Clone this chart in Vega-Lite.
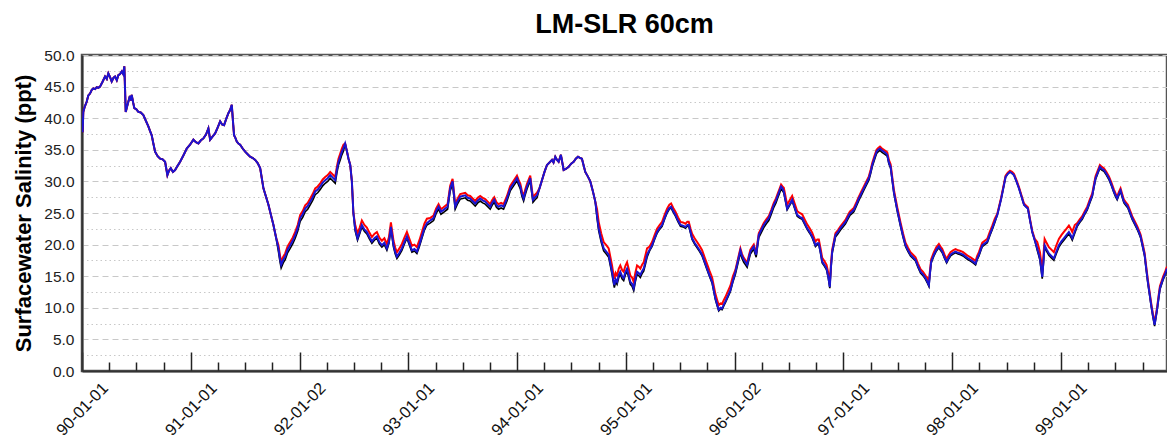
{
"$schema": "https://vega.github.io/schema/vega-lite/v6.json",
"width": 1085, "height": 316,
"autosize": {"type": "none"},
"padding": {"left": 82, "top": 55, "right": 0, "bottom": 71},
"background": "white",
"config": {"view": {"stroke": "#555555", "strokeWidth": 2.5}, "font": "Liberation Sans"},
"title": {"text": "LM-SLR 60cm", "font": "Liberation Sans", "fontSize": 27, "fontWeight": "bold", "color": "#000000", "offset": 9, "anchor": "middle"},
"data": {"values": [
{"t":1990.000,"b":40.0,"r":40.0,"k":40.0},
{"t":1990.006,"b":37.8,"r":37.8,"k":37.8},
{"t":1990.012,"b":41.0,"r":41.0,"k":41.0},
{"t":1990.025,"b":41.8,"r":41.8,"k":41.8},
{"t":1990.043,"b":42.6,"r":42.6,"k":42.6},
{"t":1990.058,"b":43.6,"r":43.6,"k":43.6},
{"t":1990.074,"b":43.9,"r":43.9,"k":43.9},
{"t":1990.090,"b":44.5,"r":44.5,"k":44.5},
{"t":1990.104,"b":44.7,"r":44.7,"k":44.7},
{"t":1990.120,"b":44.6,"r":44.6,"k":44.6},
{"t":1990.135,"b":44.9,"r":44.9,"k":44.9},
{"t":1990.150,"b":44.8,"r":44.8,"k":44.8},
{"t":1990.166,"b":45.0,"r":45.0,"k":45.0},
{"t":1990.190,"b":45.8,"r":45.8,"k":45.8},
{"t":1990.212,"b":46.6,"r":46.6,"k":46.6},
{"t":1990.228,"b":46.2,"r":46.2,"k":46.2},
{"t":1990.242,"b":47.1,"r":47.1,"k":47.1},
{"t":1990.258,"b":46.5,"r":46.5,"k":46.5},
{"t":1990.273,"b":45.8,"r":45.8,"k":45.8},
{"t":1990.290,"b":46.4,"r":46.4,"k":46.4},
{"t":1990.304,"b":46.6,"r":46.6,"k":46.6},
{"t":1990.320,"b":46.0,"r":46.0,"k":46.0},
{"t":1990.334,"b":46.8,"r":46.8,"k":46.8},
{"t":1990.350,"b":47.0,"r":47.0,"k":47.0},
{"t":1990.365,"b":47.4,"r":47.4,"k":47.4},
{"t":1990.378,"b":47.0,"r":47.0,"k":47.0},
{"t":1990.389,"b":48.2,"r":48.2,"k":48.2},
{"t":1990.396,"b":44.5,"r":44.5,"k":44.5},
{"t":1990.402,"b":41.0,"r":41.0,"k":41.0},
{"t":1990.414,"b":41.8,"r":41.8,"k":41.8},
{"t":1990.426,"b":42.6,"r":42.6,"k":42.6},
{"t":1990.440,"b":43.5,"r":43.5,"k":43.5},
{"t":1990.450,"b":42.8,"r":42.8,"k":42.8},
{"t":1990.457,"b":43.7,"r":43.7,"k":43.7},
{"t":1990.470,"b":42.5,"r":42.5,"k":42.5},
{"t":1990.481,"b":41.6,"r":41.6,"k":41.6},
{"t":1990.500,"b":41.4,"r":41.4,"k":41.4},
{"t":1990.518,"b":41.0,"r":41.0,"k":41.0},
{"t":1990.540,"b":40.9,"r":40.9,"k":40.9},
{"t":1990.564,"b":40.5,"r":40.5,"k":40.5},
{"t":1990.587,"b":39.6,"r":39.6,"k":39.6},
{"t":1990.610,"b":38.7,"r":38.7,"k":38.7},
{"t":1990.625,"b":38.0,"r":38.0,"k":38.0},
{"t":1990.641,"b":37.3,"r":37.3,"k":37.3},
{"t":1990.656,"b":36.0,"r":36.0,"k":36.0},
{"t":1990.672,"b":34.7,"r":34.7,"k":34.7},
{"t":1990.695,"b":34.0,"r":34.0,"k":34.0},
{"t":1990.718,"b":33.6,"r":33.6,"k":33.6},
{"t":1990.741,"b":33.5,"r":33.5,"k":33.5},
{"t":1990.764,"b":33.1,"r":33.1,"k":33.1},
{"t":1990.775,"b":32.0,"r":32.0,"k":32.0},
{"t":1990.785,"b":31.0,"r":31.0,"k":31.0},
{"t":1990.800,"b":31.7,"r":31.7,"k":31.7},
{"t":1990.816,"b":32.1,"r":32.1,"k":32.1},
{"t":1990.836,"b":31.5,"r":31.5,"k":31.5},
{"t":1990.856,"b":31.8,"r":31.8,"k":31.8},
{"t":1990.880,"b":32.5,"r":32.5,"k":32.5},
{"t":1990.902,"b":33.1,"r":33.1,"k":33.1},
{"t":1990.932,"b":34.1,"r":34.1,"k":34.1},
{"t":1990.963,"b":35.2,"r":35.2,"k":35.2},
{"t":1990.993,"b":35.8,"r":35.8,"k":35.8},
{"t":1991.024,"b":36.6,"r":36.6,"k":36.6},
{"t":1991.047,"b":36.2,"r":36.2,"k":36.2},
{"t":1991.070,"b":36.0,"r":36.0,"k":36.0},
{"t":1991.093,"b":36.5,"r":36.5,"k":36.5},
{"t":1991.116,"b":36.8,"r":36.8,"k":36.8},
{"t":1991.140,"b":37.4,"r":37.4,"k":37.4},
{"t":1991.162,"b":38.4,"r":38.4,"k":38.4},
{"t":1991.178,"b":36.6,"r":36.6,"k":36.6},
{"t":1991.200,"b":37.1,"r":37.1,"k":37.1},
{"t":1991.224,"b":37.6,"r":37.6,"k":37.6},
{"t":1991.247,"b":38.5,"r":38.5,"k":38.5},
{"t":1991.270,"b":39.5,"r":39.5,"k":39.5},
{"t":1991.288,"b":39.0,"r":39.0,"k":39.0},
{"t":1991.306,"b":38.9,"r":38.9,"k":38.9},
{"t":1991.326,"b":39.9,"r":39.9,"k":39.9},
{"t":1991.346,"b":40.8,"r":40.8,"k":40.8},
{"t":1991.362,"b":41.3,"r":41.3,"k":41.3},
{"t":1991.377,"b":42.1,"r":42.1,"k":42.1},
{"t":1991.388,"b":39.5,"r":39.5,"k":39.5},
{"t":1991.398,"b":37.3,"r":37.3,"k":37.3},
{"t":1991.410,"b":36.9,"r":36.9,"k":36.9},
{"t":1991.423,"b":36.3,"r":36.3,"k":36.3},
{"t":1991.438,"b":36.0,"r":36.0,"k":36.0},
{"t":1991.454,"b":35.8,"r":35.8,"k":35.8},
{"t":1991.477,"b":35.2,"r":35.2,"k":35.2},
{"t":1991.500,"b":34.7,"r":34.7,"k":34.7},
{"t":1991.523,"b":34.3,"r":34.3,"k":34.3},
{"t":1991.546,"b":33.9,"r":33.9,"k":33.9},
{"t":1991.570,"b":33.7,"r":33.7,"k":33.7},
{"t":1991.592,"b":33.4,"r":33.4,"k":33.4},
{"t":1991.615,"b":32.9,"r":32.9,"k":32.9},
{"t":1991.638,"b":32.1,"r":32.1,"k":32.1},
{"t":1991.653,"b":30.5,"r":30.5,"k":30.5},
{"t":1991.668,"b":28.9,"r":28.9,"k":28.9},
{"t":1991.691,"b":27.6,"r":27.6,"k":27.6},
{"t":1991.714,"b":26.3,"r":26.3,"k":26.3},
{"t":1991.737,"b":24.7,"r":24.7,"k":24.7},
{"t":1991.760,"b":23.1,"r":23.1,"k":23.1},
{"t":1991.783,"b":21.2,"r":21.2,"k":21.2},
{"t":1991.806,"b":19.4,"r":19.9,"k":18.9},
{"t":1991.820,"b":17.8,"r":18.3,"k":17.3},
{"t":1991.831,"b":16.8,"r":17.3,"k":16.3},
{"t":1991.850,"b":17.6,"r":18.1,"k":17.1},
{"t":1991.868,"b":18.1,"r":18.6,"k":17.6},
{"t":1991.890,"b":19.2,"r":19.7,"k":18.7},
{"t":1991.914,"b":19.9,"r":20.4,"k":19.4},
{"t":1991.937,"b":20.6,"r":21.1,"k":20.1},
{"t":1991.960,"b":21.5,"r":22.0,"k":21.0},
{"t":1991.983,"b":22.6,"r":23.1,"k":22.1},
{"t":1992.006,"b":24.2,"r":24.7,"k":23.7},
{"t":1992.029,"b":24.8,"r":25.3,"k":24.3},
{"t":1992.052,"b":25.7,"r":26.2,"k":25.2},
{"t":1992.075,"b":26.1,"r":26.6,"k":25.6},
{"t":1992.098,"b":26.8,"r":27.3,"k":26.3},
{"t":1992.121,"b":27.5,"r":28.0,"k":27.0},
{"t":1992.144,"b":28.4,"r":28.9,"k":27.9},
{"t":1992.167,"b":28.7,"r":29.2,"k":28.2},
{"t":1992.190,"b":29.2,"r":29.7,"k":28.7},
{"t":1992.213,"b":29.8,"r":30.3,"k":29.3},
{"t":1992.236,"b":30.2,"r":30.7,"k":29.7},
{"t":1992.259,"b":30.5,"r":31.0,"k":30.0},
{"t":1992.282,"b":31.0,"r":31.5,"k":30.5},
{"t":1992.305,"b":30.6,"r":31.1,"k":30.1},
{"t":1992.328,"b":30.2,"r":30.7,"k":29.7},
{"t":1992.343,"b":31.8,"r":32.3,"k":31.3},
{"t":1992.358,"b":33.1,"r":33.6,"k":32.6},
{"t":1992.374,"b":33.9,"r":34.4,"k":33.4},
{"t":1992.389,"b":34.7,"r":35.2,"k":34.2},
{"t":1992.404,"b":35.3,"r":35.8,"k":34.8},
{"t":1992.419,"b":36.0,"r":36.0,"k":36.0},
{"t":1992.435,"b":34.8,"r":34.8,"k":34.8},
{"t":1992.450,"b":33.6,"r":33.6,"k":33.6},
{"t":1992.466,"b":32.6,"r":32.6,"k":32.6},
{"t":1992.481,"b":30.0,"r":30.0,"k":30.0},
{"t":1992.495,"b":25.0,"r":25.0,"k":25.0},
{"t":1992.511,"b":22.5,"r":23.2,"k":22.2},
{"t":1992.533,"b":21.0,"r":21.7,"k":20.7},
{"t":1992.553,"b":22.0,"r":22.7,"k":21.7},
{"t":1992.573,"b":23.1,"r":23.8,"k":22.8},
{"t":1992.596,"b":22.4,"r":23.1,"k":22.1},
{"t":1992.619,"b":22.0,"r":22.7,"k":21.7},
{"t":1992.642,"b":21.2,"r":21.9,"k":20.9},
{"t":1992.665,"b":20.5,"r":21.2,"k":20.2},
{"t":1992.688,"b":21.0,"r":21.7,"k":20.7},
{"t":1992.711,"b":21.3,"r":22.0,"k":21.0},
{"t":1992.734,"b":20.4,"r":21.1,"k":20.1},
{"t":1992.757,"b":19.9,"r":20.6,"k":19.6},
{"t":1992.780,"b":20.3,"r":21.0,"k":20.0},
{"t":1992.803,"b":19.4,"r":20.1,"k":19.1},
{"t":1992.822,"b":20.5,"r":21.2,"k":20.2},
{"t":1992.840,"b":22.8,"r":23.5,"k":22.5},
{"t":1992.864,"b":19.9,"r":20.6,"k":19.6},
{"t":1992.880,"b":18.8,"r":19.5,"k":18.5},
{"t":1992.895,"b":18.1,"r":18.8,"k":17.8},
{"t":1992.918,"b":18.7,"r":19.4,"k":18.4},
{"t":1992.941,"b":19.4,"r":20.1,"k":19.1},
{"t":1992.964,"b":20.4,"r":21.1,"k":20.1},
{"t":1992.987,"b":21.3,"r":22.0,"k":21.0},
{"t":1993.010,"b":20.2,"r":20.9,"k":19.9},
{"t":1993.033,"b":19.1,"r":19.8,"k":18.8},
{"t":1993.056,"b":19.3,"r":20.0,"k":19.0},
{"t":1993.079,"b":18.9,"r":19.6,"k":18.6},
{"t":1993.102,"b":20.0,"r":20.7,"k":19.7},
{"t":1993.125,"b":21.3,"r":22.0,"k":21.0},
{"t":1993.148,"b":22.6,"r":23.3,"k":22.3},
{"t":1993.171,"b":23.4,"r":24.1,"k":23.1},
{"t":1993.200,"b":23.8,"r":24.2,"k":23.4},
{"t":1993.232,"b":24.2,"r":24.6,"k":23.8},
{"t":1993.255,"b":25.3,"r":25.7,"k":24.9},
{"t":1993.278,"b":26.0,"r":26.4,"k":25.6},
{"t":1993.300,"b":25.2,"r":25.6,"k":24.8},
{"t":1993.324,"b":25.5,"r":25.9,"k":25.1},
{"t":1993.361,"b":26.0,"r":26.4,"k":25.6},
{"t":1993.385,"b":28.9,"r":29.3,"k":28.5},
{"t":1993.407,"b":30.0,"r":30.4,"k":29.6},
{"t":1993.431,"b":26.0,"r":26.4,"k":25.6},
{"t":1993.454,"b":26.9,"r":27.3,"k":26.5},
{"t":1993.477,"b":27.6,"r":28.0,"k":27.2},
{"t":1993.500,"b":27.7,"r":28.1,"k":27.3},
{"t":1993.523,"b":27.8,"r":28.2,"k":27.4},
{"t":1993.546,"b":27.4,"r":27.8,"k":27.0},
{"t":1993.569,"b":27.3,"r":27.7,"k":26.9},
{"t":1993.592,"b":26.9,"r":27.3,"k":26.5},
{"t":1993.615,"b":26.5,"r":26.9,"k":26.1},
{"t":1993.638,"b":27.0,"r":27.4,"k":26.6},
{"t":1993.661,"b":27.3,"r":27.7,"k":26.9},
{"t":1993.684,"b":27.0,"r":27.4,"k":26.6},
{"t":1993.707,"b":26.8,"r":27.2,"k":26.4},
{"t":1993.730,"b":26.4,"r":26.8,"k":26.0},
{"t":1993.753,"b":26.0,"r":26.4,"k":25.6},
{"t":1993.770,"b":26.6,"r":27.0,"k":26.2},
{"t":1993.790,"b":27.1,"r":27.5,"k":26.7},
{"t":1993.810,"b":26.3,"r":26.7,"k":25.9},
{"t":1993.830,"b":26.0,"r":26.4,"k":25.6},
{"t":1993.853,"b":26.2,"r":26.6,"k":25.8},
{"t":1993.876,"b":26.0,"r":26.4,"k":25.6},
{"t":1993.907,"b":27.3,"r":27.7,"k":26.9},
{"t":1993.937,"b":28.9,"r":29.3,"k":28.5},
{"t":1993.968,"b":29.7,"r":30.1,"k":29.3},
{"t":1993.999,"b":30.5,"r":30.9,"k":30.1},
{"t":1994.015,"b":29.8,"r":30.2,"k":29.4},
{"t":1994.030,"b":29.2,"r":29.6,"k":28.8},
{"t":1994.045,"b":28.0,"r":28.4,"k":27.6},
{"t":1994.060,"b":27.3,"r":27.7,"k":26.9},
{"t":1994.075,"b":28.3,"r":28.7,"k":27.9},
{"t":1994.091,"b":29.2,"r":29.6,"k":28.8},
{"t":1994.121,"b":30.5,"r":30.9,"k":30.1},
{"t":1994.135,"b":28.5,"r":28.9,"k":28.1},
{"t":1994.146,"b":27.1,"r":27.5,"k":26.7},
{"t":1994.165,"b":27.5,"r":27.9,"k":27.1},
{"t":1994.183,"b":27.8,"r":28.2,"k":27.4},
{"t":1994.206,"b":28.9,"r":28.9,"k":28.9},
{"t":1994.229,"b":30.2,"r":30.2,"k":30.2},
{"t":1994.252,"b":31.5,"r":31.5,"k":31.5},
{"t":1994.275,"b":32.6,"r":32.6,"k":32.6},
{"t":1994.298,"b":33.0,"r":33.0,"k":33.0},
{"t":1994.321,"b":33.4,"r":33.4,"k":33.4},
{"t":1994.335,"b":33.0,"r":33.0,"k":33.0},
{"t":1994.351,"b":33.9,"r":33.9,"k":33.9},
{"t":1994.367,"b":33.4,"r":33.4,"k":33.4},
{"t":1994.382,"b":33.1,"r":33.1,"k":33.1},
{"t":1994.403,"b":34.2,"r":34.2,"k":34.2},
{"t":1994.428,"b":31.8,"r":31.8,"k":31.8},
{"t":1994.451,"b":32.0,"r":32.0,"k":32.0},
{"t":1994.474,"b":32.3,"r":32.3,"k":32.3},
{"t":1994.497,"b":32.8,"r":32.8,"k":32.8},
{"t":1994.520,"b":33.1,"r":33.1,"k":33.1},
{"t":1994.540,"b":33.6,"r":33.6,"k":33.6},
{"t":1994.560,"b":33.9,"r":33.9,"k":33.9},
{"t":1994.580,"b":33.7,"r":33.7,"k":33.7},
{"t":1994.596,"b":33.6,"r":33.6,"k":33.6},
{"t":1994.612,"b":32.5,"r":32.5,"k":32.5},
{"t":1994.627,"b":31.5,"r":31.5,"k":31.5},
{"t":1994.650,"b":30.8,"r":30.8,"k":30.8},
{"t":1994.673,"b":30.0,"r":30.0,"k":30.0},
{"t":1994.696,"b":28.5,"r":28.5,"k":28.5},
{"t":1994.719,"b":26.8,"r":26.8,"k":26.8},
{"t":1994.735,"b":24.6,"r":25.6,"k":24.2},
{"t":1994.750,"b":22.6,"r":23.6,"k":22.2},
{"t":1994.773,"b":20.8,"r":21.8,"k":20.4},
{"t":1994.796,"b":19.4,"r":20.4,"k":19.0},
{"t":1994.820,"b":18.9,"r":19.9,"k":18.5},
{"t":1994.842,"b":18.4,"r":19.4,"k":18.0},
{"t":1994.858,"b":17.0,"r":18.0,"k":16.6},
{"t":1994.873,"b":15.7,"r":16.7,"k":15.3},
{"t":1994.884,"b":14.5,"r":15.5,"k":14.1},
{"t":1994.894,"b":13.6,"r":14.6,"k":13.2},
{"t":1994.906,"b":14.5,"r":15.5,"k":14.1},
{"t":1994.919,"b":14.1,"r":15.1,"k":13.7},
{"t":1994.935,"b":15.2,"r":16.2,"k":14.8},
{"t":1994.949,"b":15.7,"r":16.7,"k":15.3},
{"t":1994.965,"b":15.0,"r":16.0,"k":14.6},
{"t":1994.980,"b":14.7,"r":15.7,"k":14.3},
{"t":1994.995,"b":15.6,"r":16.6,"k":15.2},
{"t":1995.011,"b":16.2,"r":17.2,"k":15.8},
{"t":1995.026,"b":15.2,"r":16.2,"k":14.8},
{"t":1995.041,"b":14.1,"r":15.1,"k":13.7},
{"t":1995.057,"b":13.8,"r":14.8,"k":13.4},
{"t":1995.072,"b":13.1,"r":14.1,"k":12.7},
{"t":1995.087,"b":14.5,"r":15.5,"k":14.1},
{"t":1995.103,"b":15.7,"r":16.7,"k":15.3},
{"t":1995.118,"b":15.5,"r":16.5,"k":15.1},
{"t":1995.133,"b":15.2,"r":16.2,"k":14.8},
{"t":1995.149,"b":15.8,"r":16.8,"k":15.4},
{"t":1995.164,"b":16.2,"r":17.2,"k":15.8},
{"t":1995.180,"b":17.3,"r":18.3,"k":16.9},
{"t":1995.195,"b":18.4,"r":19.4,"k":18.0},
{"t":1995.218,"b":19.2,"r":19.7,"k":19.0},
{"t":1995.241,"b":19.9,"r":20.4,"k":19.7},
{"t":1995.264,"b":21.0,"r":21.5,"k":20.8},
{"t":1995.287,"b":22.0,"r":22.5,"k":21.8},
{"t":1995.310,"b":22.6,"r":23.1,"k":22.4},
{"t":1995.333,"b":23.1,"r":23.6,"k":22.9},
{"t":1995.356,"b":24.2,"r":24.7,"k":24.0},
{"t":1995.379,"b":25.2,"r":25.7,"k":25.0},
{"t":1995.400,"b":25.8,"r":26.3,"k":25.6},
{"t":1995.416,"b":26.0,"r":26.5,"k":25.8},
{"t":1995.436,"b":25.3,"r":25.8,"k":25.1},
{"t":1995.456,"b":24.7,"r":25.2,"k":24.5},
{"t":1995.480,"b":23.8,"r":24.3,"k":23.6},
{"t":1995.502,"b":23.1,"r":23.6,"k":22.9},
{"t":1995.525,"b":23.0,"r":23.5,"k":22.8},
{"t":1995.548,"b":22.8,"r":23.3,"k":22.6},
{"t":1995.565,"b":23.1,"r":23.6,"k":22.9},
{"t":1995.578,"b":23.1,"r":23.6,"k":22.9},
{"t":1995.595,"b":22.0,"r":22.5,"k":21.8},
{"t":1995.609,"b":21.0,"r":21.7,"k":20.8},
{"t":1995.632,"b":20.3,"r":21.0,"k":20.1},
{"t":1995.655,"b":19.7,"r":20.4,"k":19.5},
{"t":1995.678,"b":19.1,"r":19.8,"k":18.9},
{"t":1995.701,"b":18.4,"r":19.1,"k":18.2},
{"t":1995.724,"b":17.3,"r":18.0,"k":17.1},
{"t":1995.747,"b":16.2,"r":16.9,"k":16.0},
{"t":1995.770,"b":15.1,"r":15.8,"k":14.9},
{"t":1995.793,"b":14.1,"r":14.8,"k":13.9},
{"t":1995.808,"b":12.8,"r":13.5,"k":12.6},
{"t":1995.823,"b":11.5,"r":12.2,"k":11.3},
{"t":1995.840,"b":10.5,"r":11.2,"k":10.3},
{"t":1995.854,"b":9.7,"r":10.4,"k":9.5},
{"t":1995.870,"b":10.0,"r":10.7,"k":9.8},
{"t":1995.885,"b":9.9,"r":10.6,"k":9.7},
{"t":1995.900,"b":10.5,"r":11.2,"k":10.3},
{"t":1995.915,"b":11.0,"r":11.7,"k":10.8},
{"t":1995.938,"b":11.9,"r":12.6,"k":11.7},
{"t":1995.961,"b":12.8,"r":13.5,"k":12.6},
{"t":1995.984,"b":14.3,"r":15.0,"k":14.1},
{"t":1996.007,"b":15.7,"r":16.0,"k":15.3},
{"t":1996.030,"b":17.4,"r":17.7,"k":17.0},
{"t":1996.053,"b":19.1,"r":19.4,"k":18.7},
{"t":1996.068,"b":18.2,"r":18.5,"k":17.8},
{"t":1996.084,"b":17.6,"r":17.9,"k":17.2},
{"t":1996.100,"b":17.2,"r":17.5,"k":16.8},
{"t":1996.115,"b":16.8,"r":17.1,"k":16.4},
{"t":1996.130,"b":17.9,"r":18.2,"k":17.5},
{"t":1996.145,"b":18.9,"r":19.2,"k":18.5},
{"t":1996.160,"b":19.3,"r":19.6,"k":18.9},
{"t":1996.176,"b":19.7,"r":20.0,"k":19.3},
{"t":1996.187,"b":19.0,"r":19.3,"k":18.6},
{"t":1996.198,"b":18.4,"r":18.7,"k":18.0},
{"t":1996.210,"b":20.0,"r":20.3,"k":19.6},
{"t":1996.222,"b":21.5,"r":21.8,"k":21.1},
{"t":1996.245,"b":22.3,"r":22.6,"k":21.9},
{"t":1996.268,"b":23.1,"r":23.4,"k":22.7},
{"t":1996.291,"b":23.7,"r":24.0,"k":23.3},
{"t":1996.314,"b":24.2,"r":24.5,"k":23.8},
{"t":1996.337,"b":25.2,"r":25.5,"k":24.8},
{"t":1996.360,"b":26.3,"r":26.6,"k":25.9},
{"t":1996.380,"b":27.0,"r":27.3,"k":26.6},
{"t":1996.397,"b":27.8,"r":28.1,"k":27.4},
{"t":1996.412,"b":28.5,"r":28.8,"k":28.1},
{"t":1996.427,"b":29.2,"r":29.5,"k":28.8},
{"t":1996.440,"b":28.9,"r":29.2,"k":28.5},
{"t":1996.452,"b":28.4,"r":29.0,"k":28.2},
{"t":1996.468,"b":27.0,"r":27.6,"k":26.8},
{"t":1996.483,"b":25.7,"r":26.3,"k":25.5},
{"t":1996.506,"b":26.4,"r":27.0,"k":26.2},
{"t":1996.529,"b":27.1,"r":27.7,"k":26.9},
{"t":1996.552,"b":25.9,"r":26.5,"k":25.7},
{"t":1996.575,"b":24.7,"r":25.3,"k":24.5},
{"t":1996.598,"b":24.4,"r":25.0,"k":24.2},
{"t":1996.621,"b":24.2,"r":24.8,"k":24.0},
{"t":1996.644,"b":23.4,"r":24.0,"k":23.2},
{"t":1996.667,"b":22.6,"r":23.2,"k":22.4},
{"t":1996.690,"b":22.0,"r":22.6,"k":21.8},
{"t":1996.713,"b":21.3,"r":21.9,"k":21.1},
{"t":1996.728,"b":20.6,"r":21.2,"k":20.4},
{"t":1996.743,"b":19.9,"r":20.5,"k":19.7},
{"t":1996.760,"b":20.2,"r":20.8,"k":20.0},
{"t":1996.774,"b":20.2,"r":20.8,"k":20.0},
{"t":1996.790,"b":18.8,"r":19.4,"k":18.6},
{"t":1996.805,"b":17.3,"r":17.9,"k":17.1},
{"t":1996.825,"b":16.8,"r":17.4,"k":16.6},
{"t":1996.845,"b":16.2,"r":16.8,"k":16.0},
{"t":1996.860,"b":15.0,"r":15.6,"k":14.8},
{"t":1996.875,"b":13.3,"r":13.9,"k":13.1},
{"t":1996.886,"b":16.5,"r":17.1,"k":16.3},
{"t":1996.897,"b":18.9,"r":19.2,"k":18.6},
{"t":1996.912,"b":20.2,"r":20.5,"k":19.9},
{"t":1996.927,"b":21.5,"r":21.8,"k":21.2},
{"t":1996.950,"b":22.0,"r":22.3,"k":21.7},
{"t":1996.973,"b":22.6,"r":22.9,"k":22.3},
{"t":1996.996,"b":23.1,"r":23.4,"k":22.8},
{"t":1997.019,"b":23.6,"r":23.9,"k":23.3},
{"t":1997.040,"b":24.3,"r":24.6,"k":24.0},
{"t":1997.059,"b":24.9,"r":25.2,"k":24.6},
{"t":1997.078,"b":25.2,"r":25.5,"k":24.9},
{"t":1997.096,"b":25.5,"r":25.8,"k":25.2},
{"t":1997.120,"b":26.4,"r":26.7,"k":26.1},
{"t":1997.142,"b":27.3,"r":27.6,"k":27.0},
{"t":1997.165,"b":28.1,"r":28.4,"k":27.8},
{"t":1997.188,"b":28.9,"r":29.2,"k":28.6},
{"t":1997.211,"b":29.7,"r":30.0,"k":29.4},
{"t":1997.234,"b":30.5,"r":30.8,"k":30.2},
{"t":1997.250,"b":31.5,"r":31.8,"k":31.2},
{"t":1997.265,"b":32.6,"r":32.9,"k":32.3},
{"t":1997.285,"b":33.7,"r":34.0,"k":33.4},
{"t":1997.305,"b":34.7,"r":35.0,"k":34.4},
{"t":1997.320,"b":35.0,"r":35.3,"k":34.7},
{"t":1997.336,"b":35.2,"r":35.5,"k":34.9},
{"t":1997.355,"b":34.9,"r":35.2,"k":34.6},
{"t":1997.372,"b":34.7,"r":35.0,"k":34.4},
{"t":1997.388,"b":34.5,"r":34.8,"k":34.2},
{"t":1997.403,"b":34.2,"r":34.6,"k":34.0},
{"t":1997.418,"b":33.0,"r":33.4,"k":32.8},
{"t":1997.434,"b":32.3,"r":32.7,"k":32.1},
{"t":1997.464,"b":28.3,"r":28.7,"k":28.1},
{"t":1997.495,"b":25.5,"r":25.9,"k":25.3},
{"t":1997.525,"b":23.1,"r":23.5,"k":22.9},
{"t":1997.548,"b":21.4,"r":21.8,"k":21.2},
{"t":1997.571,"b":19.9,"r":20.3,"k":19.7},
{"t":1997.594,"b":19.1,"r":19.5,"k":18.9},
{"t":1997.617,"b":18.4,"r":18.8,"k":18.2},
{"t":1997.640,"b":18.0,"r":18.4,"k":17.8},
{"t":1997.663,"b":17.6,"r":18.0,"k":17.4},
{"t":1997.686,"b":16.6,"r":17.0,"k":16.4},
{"t":1997.709,"b":15.7,"r":16.1,"k":15.5},
{"t":1997.732,"b":15.3,"r":15.7,"k":15.1},
{"t":1997.755,"b":14.7,"r":15.1,"k":14.5},
{"t":1997.770,"b":14.2,"r":14.8,"k":14.0},
{"t":1997.786,"b":13.6,"r":14.2,"k":13.4},
{"t":1997.796,"b":15.5,"r":15.9,"k":15.3},
{"t":1997.807,"b":17.3,"r":17.7,"k":17.1},
{"t":1997.832,"b":18.4,"r":18.8,"k":18.2},
{"t":1997.855,"b":19.2,"r":19.6,"k":19.0},
{"t":1997.878,"b":19.7,"r":20.1,"k":19.5},
{"t":1997.893,"b":19.3,"r":19.7,"k":19.1},
{"t":1997.909,"b":18.9,"r":19.3,"k":18.7},
{"t":1997.930,"b":18.0,"r":18.4,"k":17.8},
{"t":1997.949,"b":17.3,"r":17.7,"k":17.1},
{"t":1997.967,"b":17.9,"r":18.3,"k":17.7},
{"t":1997.985,"b":18.4,"r":18.8,"k":18.2},
{"t":1998.008,"b":18.7,"r":19.1,"k":18.5},
{"t":1998.031,"b":18.9,"r":19.3,"k":18.7},
{"t":1998.054,"b":18.7,"r":19.1,"k":18.5},
{"t":1998.077,"b":18.6,"r":19.0,"k":18.4},
{"t":1998.100,"b":18.4,"r":18.8,"k":18.2},
{"t":1998.123,"b":18.1,"r":18.5,"k":17.9},
{"t":1998.146,"b":17.8,"r":18.2,"k":17.6},
{"t":1998.169,"b":17.6,"r":18.0,"k":17.4},
{"t":1998.192,"b":17.3,"r":17.7,"k":17.1},
{"t":1998.215,"b":17.0,"r":17.4,"k":16.8},
{"t":1998.230,"b":17.8,"r":18.2,"k":17.6},
{"t":1998.246,"b":18.4,"r":18.8,"k":18.2},
{"t":1998.262,"b":19.2,"r":19.6,"k":19.0},
{"t":1998.277,"b":19.9,"r":20.3,"k":19.7},
{"t":1998.300,"b":20.2,"r":20.6,"k":20.0},
{"t":1998.323,"b":20.5,"r":20.9,"k":20.3},
{"t":1998.346,"b":21.6,"r":22.0,"k":21.4},
{"t":1998.369,"b":22.6,"r":23.0,"k":22.4},
{"t":1998.392,"b":23.7,"r":24.1,"k":23.5},
{"t":1998.415,"b":24.7,"r":24.9,"k":24.7},
{"t":1998.433,"b":26.0,"r":26.2,"k":26.0},
{"t":1998.451,"b":27.3,"r":27.5,"k":27.3},
{"t":1998.471,"b":29.0,"r":29.2,"k":29.0},
{"t":1998.491,"b":30.7,"r":30.9,"k":30.7},
{"t":1998.511,"b":31.2,"r":31.4,"k":31.2},
{"t":1998.531,"b":31.5,"r":31.7,"k":31.5},
{"t":1998.550,"b":31.3,"r":31.5,"k":31.3},
{"t":1998.568,"b":31.0,"r":31.2,"k":31.0},
{"t":1998.591,"b":30.0,"r":30.2,"k":30.0},
{"t":1998.614,"b":28.9,"r":29.1,"k":28.9},
{"t":1998.637,"b":27.6,"r":27.8,"k":27.6},
{"t":1998.660,"b":26.3,"r":26.5,"k":26.3},
{"t":1998.678,"b":26.0,"r":26.2,"k":26.0},
{"t":1998.696,"b":25.7,"r":25.9,"k":25.7},
{"t":1998.716,"b":23.8,"r":24.0,"k":23.8},
{"t":1998.736,"b":22.0,"r":22.2,"k":22.0},
{"t":1998.759,"b":20.7,"r":20.9,"k":20.7},
{"t":1998.782,"b":19.4,"r":20.4,"k":19.1},
{"t":1998.795,"b":18.6,"r":19.6,"k":18.3},
{"t":1998.807,"b":17.8,"r":18.8,"k":17.5},
{"t":1998.818,"b":16.3,"r":17.3,"k":16.0},
{"t":1998.828,"b":14.9,"r":15.9,"k":14.6},
{"t":1998.840,"b":17.5,"r":18.5,"k":17.2},
{"t":1998.850,"b":19.9,"r":20.9,"k":19.6},
{"t":1998.870,"b":19.2,"r":20.2,"k":18.9},
{"t":1998.889,"b":18.6,"r":19.6,"k":18.3},
{"t":1998.912,"b":18.2,"r":19.2,"k":17.9},
{"t":1998.935,"b":17.8,"r":18.8,"k":17.5},
{"t":1998.958,"b":18.9,"r":19.9,"k":18.6},
{"t":1998.981,"b":19.9,"r":20.9,"k":19.6},
{"t":1999.004,"b":20.5,"r":21.5,"k":20.2},
{"t":1999.027,"b":21.0,"r":22.0,"k":20.7},
{"t":1999.050,"b":21.5,"r":22.5,"k":21.2},
{"t":1999.073,"b":22.0,"r":23.0,"k":21.7},
{"t":1999.090,"b":21.5,"r":22.5,"k":21.2},
{"t":1999.104,"b":21.0,"r":22.0,"k":20.7},
{"t":1999.127,"b":22.1,"r":23.1,"k":21.8},
{"t":1999.150,"b":23.1,"r":23.4,"k":22.9},
{"t":1999.173,"b":23.7,"r":24.0,"k":23.5},
{"t":1999.196,"b":24.2,"r":24.5,"k":24.0},
{"t":1999.219,"b":25.0,"r":25.3,"k":24.8},
{"t":1999.242,"b":25.7,"r":26.0,"k":25.5},
{"t":1999.265,"b":26.8,"r":27.1,"k":26.6},
{"t":1999.288,"b":27.8,"r":28.1,"k":27.6},
{"t":1999.303,"b":29.2,"r":29.5,"k":29.0},
{"t":1999.318,"b":30.5,"r":30.8,"k":30.3},
{"t":1999.338,"b":31.4,"r":31.7,"k":31.2},
{"t":1999.358,"b":32.3,"r":32.6,"k":32.1},
{"t":1999.376,"b":32.0,"r":32.3,"k":31.8},
{"t":1999.395,"b":31.8,"r":32.1,"k":31.6},
{"t":1999.418,"b":31.2,"r":31.5,"k":31.0},
{"t":1999.441,"b":30.5,"r":30.8,"k":30.3},
{"t":1999.464,"b":29.5,"r":29.8,"k":29.3},
{"t":1999.487,"b":28.4,"r":28.7,"k":28.2},
{"t":1999.502,"b":27.8,"r":28.1,"k":27.6},
{"t":1999.517,"b":27.3,"r":27.6,"k":27.1},
{"t":1999.532,"b":28.0,"r":28.3,"k":27.8},
{"t":1999.548,"b":28.6,"r":28.9,"k":28.4},
{"t":1999.563,"b":27.7,"r":28.0,"k":27.5},
{"t":1999.579,"b":26.8,"r":27.1,"k":26.6},
{"t":1999.597,"b":26.4,"r":26.7,"k":26.2},
{"t":1999.615,"b":26.0,"r":26.3,"k":25.8},
{"t":1999.635,"b":25.1,"r":25.4,"k":24.9},
{"t":1999.655,"b":24.2,"r":24.5,"k":24.0},
{"t":1999.678,"b":23.4,"r":23.7,"k":23.2},
{"t":1999.701,"b":22.6,"r":22.9,"k":22.4},
{"t":1999.716,"b":22.0,"r":22.3,"k":21.8},
{"t":1999.732,"b":21.3,"r":21.6,"k":21.1},
{"t":1999.750,"b":19.9,"r":20.2,"k":19.7},
{"t":1999.769,"b":18.4,"r":18.7,"k":18.2},
{"t":1999.784,"b":16.2,"r":16.5,"k":16.0},
{"t":1999.799,"b":14.1,"r":14.4,"k":13.9},
{"t":1999.815,"b":12.2,"r":12.5,"k":12.0},
{"t":1999.830,"b":10.4,"r":10.7,"k":10.2},
{"t":1999.845,"b":8.8,"r":9.1,"k":8.6},
{"t":1999.861,"b":7.3,"r":7.6,"k":7.1},
{"t":1999.873,"b":8.6,"r":8.9,"k":8.4},
{"t":1999.885,"b":9.9,"r":10.2,"k":9.7},
{"t":1999.897,"b":11.5,"r":11.8,"k":11.3},
{"t":1999.910,"b":13.1,"r":13.4,"k":12.9},
{"t":1999.925,"b":13.9,"r":14.2,"k":13.7},
{"t":1999.941,"b":14.7,"r":15.0,"k":14.5},
{"t":1999.960,"b":15.5,"r":15.8,"k":15.3},
{"t":1999.975,"b":16.2,"r":16.5,"k":16.0}
]},
"transform": [{"fold": ["k", "r", "b"], "as": ["series", "v"]}],
"encoding": {
"x": {"field": "t", "type": "quantitative",
 "scale": {"domain": [1990, 1999.975], "nice": false, "zero": false},
 "axis": {
  "values": [1990,1990.25,1990.5,1990.75,1991,1991.25,1991.5,1991.75,1992,1992.25,1992.5,1992.75,1993,1993.25,1993.5,1993.75,1994,1994.25,1994.5,1994.75,1995,1995.25,1995.5,1995.75,1996,1996.25,1996.5,1996.75,1997,1997.25,1997.5,1997.75,1998,1998.25,1998.5,1998.75,1999,1999.25,1999.5,1999.75],
  "title": null,
  "grid": false,
  "domainColor": "#333333", "domainWidth": 2,
  "tickColor": "#222222", "tickWidth": 1.5,
  "tickSize": {"condition": {"test": "datum.value % 1 === 0", "value": -19}, "value": -9},
  "labelExpr": "datum.value % 1 === 0 ? substring(toString(datum.value), 2, 4) + ((datum.value === 1992 || datum.value === 1996) ? '-01-02' : '-01-01') : ''",
  "labelAngle": -46,
  "labelAlign": "center",
  "labelBaseline": "middle",
  "labelPadding": 57,
  "labelFont": "Liberation Sans", "labelFontSize": 16.5, "labelColor": "#111111",
  "labelOverlap": false, "labelFlush": false, "labelBound": false
 }},
"y": {"field": "v", "type": "quantitative",
 "scale": {"domain": [0, 50], "nice": false, "zero": true},
 "axis": {
  "values": [0,2.5,5,7.5,10,12.5,15,17.5,20,22.5,25,27.5,30,32.5,35,37.5,40,42.5,45,47.5,50],
  "title": "Surfacewater Salinity (ppt)",
  "titleFont": "Liberation Sans", "titleFontSize": 22, "titleFontWeight": "bold", "titleColor": "#000000", "titlePadding": 8,
  "labelExpr": "datum.value % 5 === 0 ? format(datum.value, '.1f') : ''",
  "labelFont": "Liberation Sans", "labelFontSize": 15.5, "labelColor": "#222222", "labelPadding": 8,
  "ticks": false,
  "domainColor": "#333333", "domainWidth": 2,
  "grid": true, "gridColor": "#c8c8c8", "gridWidth": 1,
  "gridDash": {"condition": {"test": "datum.value % 5 === 0", "value": [6, 4]}, "value": [1.5, 3]},
  "labelOverlap": false, "labelFlush": false
 }}
},
"layer": [
 {"transform": [{"filter": "datum.series === 'k'"}], "mark": {"type": "line", "color": "#000000", "strokeWidth": 1.6, "clip": true}},
 {"transform": [{"filter": "datum.series === 'r'"}], "mark": {"type": "line", "color": "#ff0000", "strokeWidth": 2, "clip": true}},
 {"transform": [{"filter": "datum.series === 'b'"}], "mark": {"type": "line", "color": "#1a14d2", "strokeWidth": 2, "clip": true}}
]
}
